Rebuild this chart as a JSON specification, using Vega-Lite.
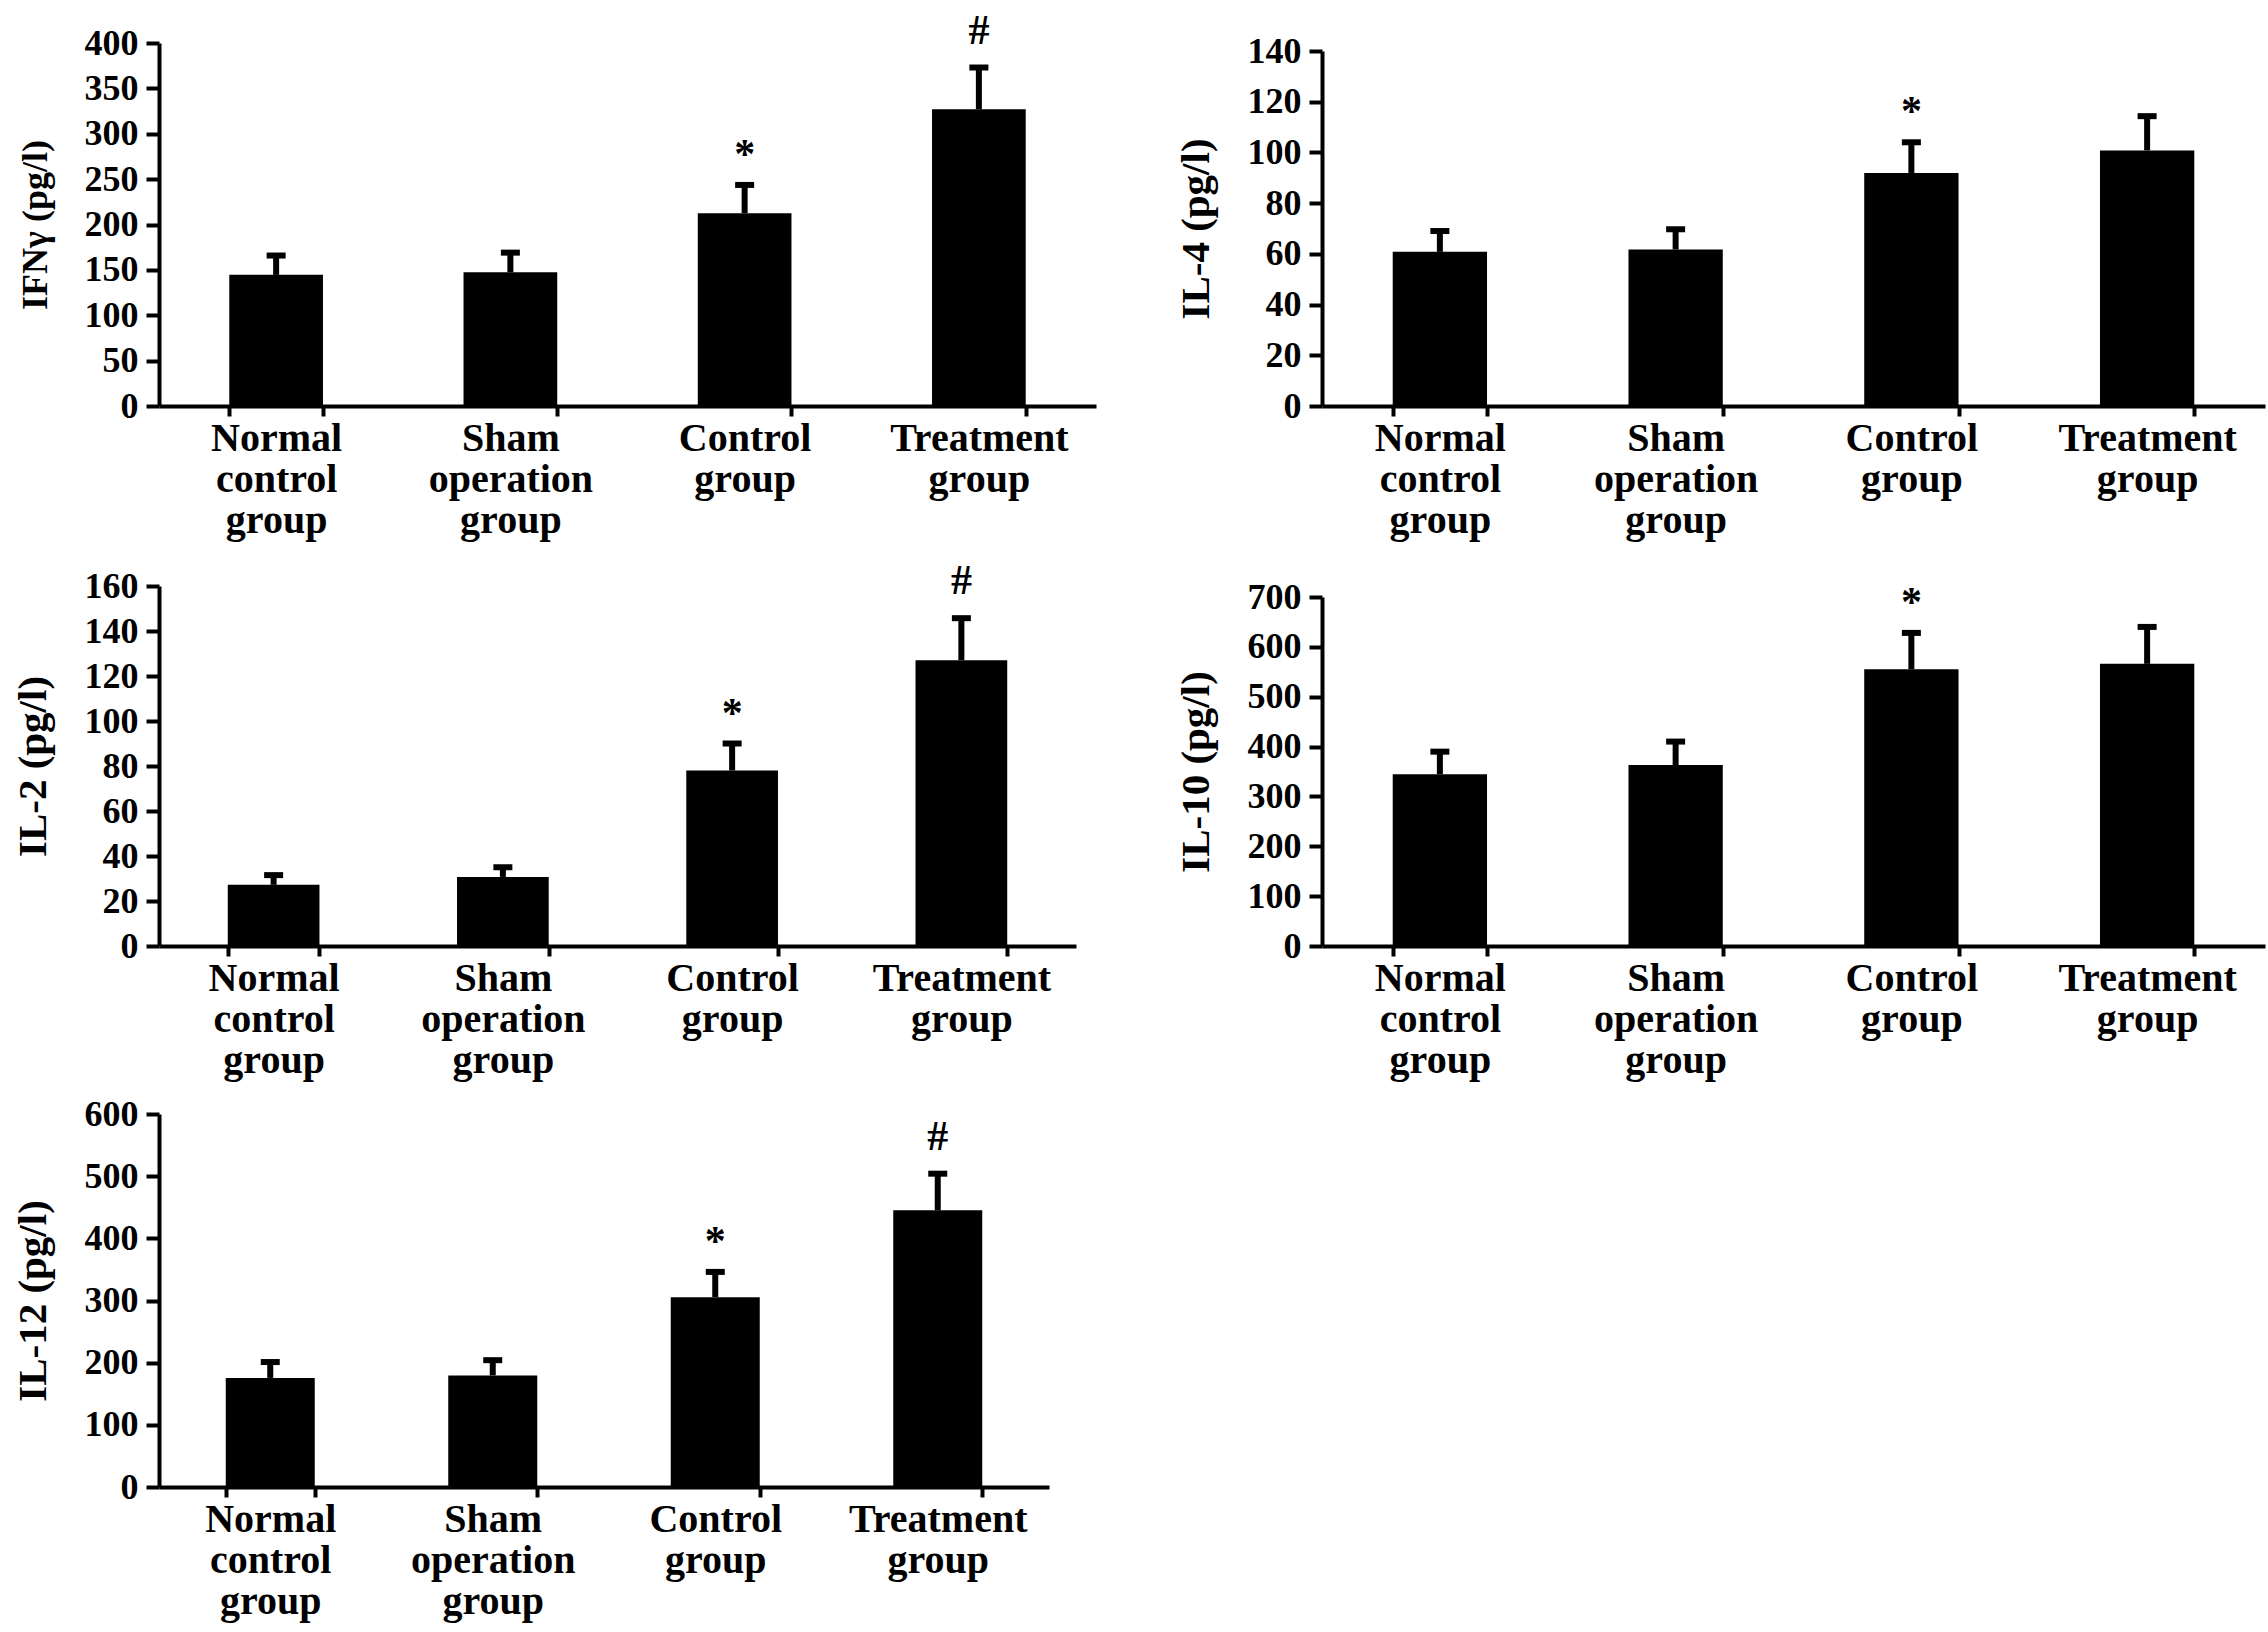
{
  "$schema": "https://vega.github.io/schema/vega-lite/v6.json",
  "background": "white",
  "padding": {"left": 12, "top": 9, "right": 5, "bottom": 5},
  "data": {
    "values": [
      {"panel": "IFN", "group": "Normal control group", "mean": 144.5, "upper": 165.8, "sig": ""},
      {"panel": "IFN", "group": "Sham operation group", "mean": 147.3, "upper": 169, "sig": ""},
      {"panel": "IFN", "group": "Control group", "mean": 212.4, "upper": 243.6, "sig": "*"},
      {"panel": "IFN", "group": "Treatment group", "mean": 327, "upper": 373, "sig": "#"},
      {"panel": "IL4", "group": "Normal control group", "mean": 60.8, "upper": 69, "sig": ""},
      {"panel": "IL4", "group": "Sham operation group", "mean": 61.7, "upper": 69.7, "sig": ""},
      {"panel": "IL4", "group": "Control group", "mean": 91.9, "upper": 104, "sig": "*"},
      {"panel": "IL4", "group": "Treatment group", "mean": 100.8, "upper": 114.3, "sig": ""},
      {"panel": "IL2", "group": "Normal control group", "mean": 27.2, "upper": 31.5, "sig": ""},
      {"panel": "IL2", "group": "Sham operation group", "mean": 30.7, "upper": 35, "sig": ""},
      {"panel": "IL2", "group": "Control group", "mean": 78, "upper": 90, "sig": "*"},
      {"panel": "IL2", "group": "Treatment group", "mean": 127, "upper": 145.7, "sig": "#"},
      {"panel": "IL10", "group": "Normal control group", "mean": 344.6, "upper": 389.8, "sig": ""},
      {"panel": "IL10", "group": "Sham operation group", "mean": 363, "upper": 410, "sig": ""},
      {"panel": "IL10", "group": "Control group", "mean": 555, "upper": 628, "sig": "*"},
      {"panel": "IL10", "group": "Treatment group", "mean": 566, "upper": 640, "sig": ""},
      {"panel": "IL12", "group": "Normal control group", "mean": 175.5, "upper": 201, "sig": ""},
      {"panel": "IL12", "group": "Sham operation group", "mean": 179.5, "upper": 204, "sig": ""},
      {"panel": "IL12", "group": "Control group", "mean": 305.4, "upper": 346, "sig": "*"},
      {"panel": "IL12", "group": "Treatment group", "mean": 445, "upper": 504, "sig": "#"}
    ]
  },
  "columns": 2,
  "spacing": {"row": 152, "column": 220},
  "bounds": "flush",
  "align": "all",
  "concat": [
    {
      "width": 937, "height": 363,
      "transform": [{"filter": "datum.panel === 'IFN'"}],
      "encoding": {"x": {"field": "group", "type": "nominal", "title": null, "sort": ["Normal control group", "Sham operation group", "Control group", "Treatment group"], "scale": {"paddingInner": 0.6, "paddingOuter": 0.3}}},
      "layer": [
        {"mark": {"type": "bar", "color": "black"}, "encoding": {"y": {"field": "mean", "type": "quantitative", "title": "IFNγ (pg/l)", "scale": {"domain": [0, 400], "nice": false}, "axis": {"values": [0, 50, 100, 150, 200, 250, 300, 350, 400], "titleFontSize": 36}}}},
        {"mark": {"type": "rule", "color": "black", "strokeWidth": 6}, "encoding": {"y": {"field": "mean", "type": "quantitative", "title": "IFNγ (pg/l)"}, "y2": {"field": "upper"}}},
        {"mark": {"type": "tick", "color": "black", "size": 19, "thickness": 6, "opacity": 1}, "encoding": {"y": {"field": "upper", "type": "quantitative", "title": "IFNγ (pg/l)"}}},
        {"transform": [{"filter": "datum.sig === '*'"}], "mark": {"type": "text", "font": "Liberation Serif", "fontWeight": "bold", "fontSize": 42, "baseline": "alphabetic", "dy": -17, "color": "black"}, "encoding": {"y": {"field": "upper", "type": "quantitative", "title": "IFNγ (pg/l)"}, "text": {"field": "sig"}}},
        {"transform": [{"filter": "datum.sig === '#'"}], "mark": {"type": "text", "font": "Liberation Serif", "fontWeight": "bold", "fontSize": 42, "baseline": "alphabetic", "dy": -24, "color": "black"}, "encoding": {"y": {"field": "upper", "type": "quantitative", "title": "IFNγ (pg/l)"}, "text": {"field": "sig"}}}
      ]
    },
    {
      "width": 943, "height": 363,
      "transform": [{"filter": "datum.panel === 'IL4'"}],
      "encoding": {"x": {"field": "group", "type": "nominal", "title": null, "sort": ["Normal control group", "Sham operation group", "Control group", "Treatment group"], "scale": {"paddingInner": 0.6, "paddingOuter": 0.3}}},
      "layer": [
        {"mark": {"type": "bar", "color": "black"}, "encoding": {"y": {"field": "mean", "type": "quantitative", "title": "IL-4 (pg/l)", "scale": {"domain": [0, 140], "nice": false, "range": [363, 8]}, "axis": {"values": [0, 20, 40, 60, 80, 100, 120, 140]}}}},
        {"mark": {"type": "rule", "color": "black", "strokeWidth": 6}, "encoding": {"y": {"field": "mean", "type": "quantitative", "title": "IL-4 (pg/l)"}, "y2": {"field": "upper"}}},
        {"mark": {"type": "tick", "color": "black", "size": 19, "thickness": 6, "opacity": 1}, "encoding": {"y": {"field": "upper", "type": "quantitative", "title": "IL-4 (pg/l)"}}},
        {"transform": [{"filter": "datum.sig === '*'"}], "mark": {"type": "text", "font": "Liberation Serif", "fontWeight": "bold", "fontSize": 42, "baseline": "alphabetic", "dy": -17, "color": "black"}, "encoding": {"y": {"field": "upper", "type": "quantitative", "title": "IL-4 (pg/l)"}, "text": {"field": "sig"}}}
      ]
    },
    {
      "width": 917, "height": 371,
      "transform": [{"filter": "datum.panel === 'IL2'"}],
      "encoding": {"x": {"field": "group", "type": "nominal", "title": null, "sort": ["Normal control group", "Sham operation group", "Control group", "Treatment group"], "scale": {"paddingInner": 0.6, "paddingOuter": 0.3}}},
      "layer": [
        {"mark": {"type": "bar", "color": "black"}, "encoding": {"y": {"field": "mean", "type": "quantitative", "title": "IL-2 (pg/l)", "scale": {"domain": [0, 160], "nice": false, "range": [371, 11]}, "axis": {"values": [0, 20, 40, 60, 80, 100, 120, 140, 160]}}}},
        {"mark": {"type": "rule", "color": "black", "strokeWidth": 6}, "encoding": {"y": {"field": "mean", "type": "quantitative", "title": "IL-2 (pg/l)"}, "y2": {"field": "upper"}}},
        {"mark": {"type": "tick", "color": "black", "size": 19, "thickness": 6, "opacity": 1}, "encoding": {"y": {"field": "upper", "type": "quantitative", "title": "IL-2 (pg/l)"}}},
        {"transform": [{"filter": "datum.sig === '*'"}], "mark": {"type": "text", "font": "Liberation Serif", "fontWeight": "bold", "fontSize": 42, "baseline": "alphabetic", "dy": -17, "color": "black"}, "encoding": {"y": {"field": "upper", "type": "quantitative", "title": "IL-2 (pg/l)"}, "text": {"field": "sig"}}},
        {"transform": [{"filter": "datum.sig === '#'"}], "mark": {"type": "text", "font": "Liberation Serif", "fontWeight": "bold", "fontSize": 42, "baseline": "alphabetic", "dy": -24, "color": "black"}, "encoding": {"y": {"field": "upper", "type": "quantitative", "title": "IL-2 (pg/l)"}, "text": {"field": "sig"}}}
      ]
    },
    {
      "width": 943, "height": 371,
      "transform": [{"filter": "datum.panel === 'IL10'"}],
      "encoding": {"x": {"field": "group", "type": "nominal", "title": null, "sort": ["Normal control group", "Sham operation group", "Control group", "Treatment group"], "scale": {"paddingInner": 0.6, "paddingOuter": 0.3}}},
      "layer": [
        {"mark": {"type": "bar", "color": "black"}, "encoding": {"y": {"field": "mean", "type": "quantitative", "title": "IL-10 (pg/l)", "scale": {"domain": [0, 700], "nice": false, "range": [371, 22]}, "axis": {"values": [0, 100, 200, 300, 400, 500, 600, 700]}}}},
        {"mark": {"type": "rule", "color": "black", "strokeWidth": 6}, "encoding": {"y": {"field": "mean", "type": "quantitative", "title": "IL-10 (pg/l)"}, "y2": {"field": "upper"}}},
        {"mark": {"type": "tick", "color": "black", "size": 19, "thickness": 6, "opacity": 1}, "encoding": {"y": {"field": "upper", "type": "quantitative", "title": "IL-10 (pg/l)"}}},
        {"transform": [{"filter": "datum.sig === '*'"}], "mark": {"type": "text", "font": "Liberation Serif", "fontWeight": "bold", "fontSize": 42, "baseline": "alphabetic", "dy": -17, "color": "black"}, "encoding": {"y": {"field": "upper", "type": "quantitative", "title": "IL-10 (pg/l)"}, "text": {"field": "sig"}}}
      ]
    },
    {
      "width": 890, "height": 380,
      "transform": [{"filter": "datum.panel === 'IL12'"}],
      "encoding": {"x": {"field": "group", "type": "nominal", "title": null, "sort": ["Normal control group", "Sham operation group", "Control group", "Treatment group"], "scale": {"paddingInner": 0.6, "paddingOuter": 0.3}}},
      "layer": [
        {"mark": {"type": "bar", "color": "black"}, "encoding": {"y": {"field": "mean", "type": "quantitative", "title": "IL-12 (pg/l)", "scale": {"domain": [0, 600], "nice": false, "range": [380, 7]}, "axis": {"values": [0, 100, 200, 300, 400, 500, 600]}}}},
        {"mark": {"type": "rule", "color": "black", "strokeWidth": 6}, "encoding": {"y": {"field": "mean", "type": "quantitative", "title": "IL-12 (pg/l)"}, "y2": {"field": "upper"}}},
        {"mark": {"type": "tick", "color": "black", "size": 19, "thickness": 6, "opacity": 1}, "encoding": {"y": {"field": "upper", "type": "quantitative", "title": "IL-12 (pg/l)"}}},
        {"transform": [{"filter": "datum.sig === '*'"}], "mark": {"type": "text", "font": "Liberation Serif", "fontWeight": "bold", "fontSize": 42, "baseline": "alphabetic", "dy": -17, "color": "black"}, "encoding": {"y": {"field": "upper", "type": "quantitative", "title": "IL-12 (pg/l)"}, "text": {"field": "sig"}}},
        {"transform": [{"filter": "datum.sig === '#'"}], "mark": {"type": "text", "font": "Liberation Serif", "fontWeight": "bold", "fontSize": 42, "baseline": "alphabetic", "dy": -24, "color": "black"}, "encoding": {"y": {"field": "upper", "type": "quantitative", "title": "IL-12 (pg/l)"}, "text": {"field": "sig"}}}
      ]
    }
  ],
  "config": {
    "view": {"stroke": null},
    "font": "Liberation Serif",
    "axis": {
      "domainColor": "black", "domainWidth": 4, "tickColor": "black", "tickWidth": 4,
      "labelColor": "black", "labelFont": "Liberation Serif", "labelFontWeight": "bold",
      "titleFont": "Liberation Serif", "titleFontWeight": "bold", "titleColor": "black",
      "grid": false, "labelOverlap": false
    },
    "axisY": {"labelFontSize": 36, "tickSize": 13, "labelPadding": 8, "titleFontSize": 41, "titlePadding": 30},
    "axisX": {"labelFontSize": 40, "tickSize": 10, "labelPadding": 2, "labelAngle": 0, "tickBand": "extent", "labelBaseline": "top", "labelLineHeight": 41, "labelLimit": 0, "labelExpr": "split(datum.label, ' ')"}
  }
}
